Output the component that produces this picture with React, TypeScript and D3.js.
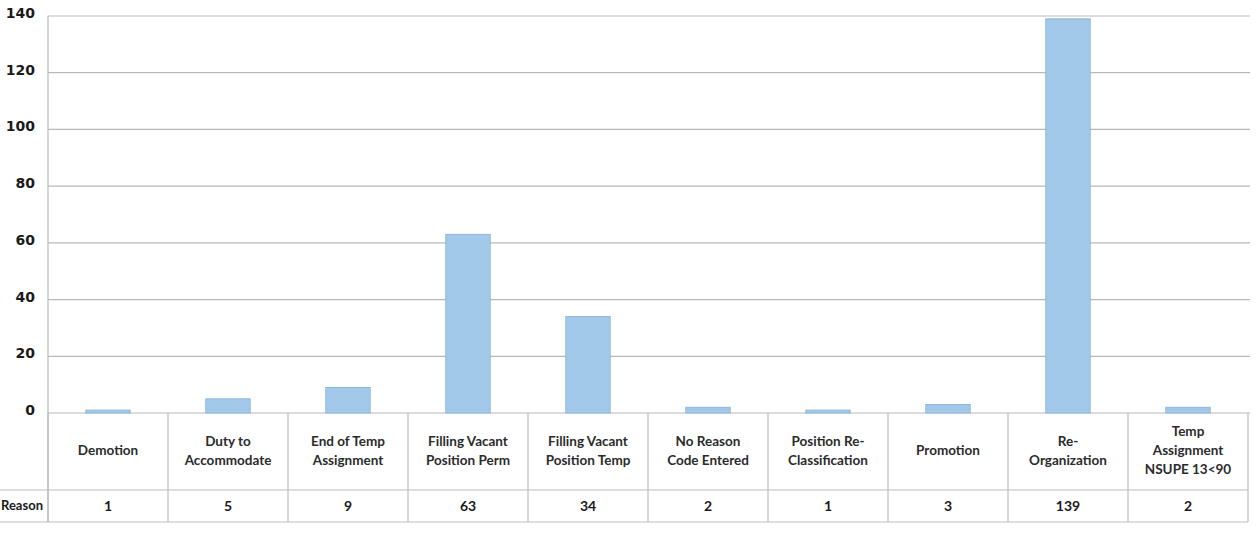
import React from 'react';
import * as d3 from 'd3';

const categories = [
  'Demotion',
  'Duty to\nAccommodate',
  'End of Temp\nAssignment',
  'Filling Vacant\nPosition Perm',
  'Filling Vacant\nPosition Temp',
  'No Reason\nCode Entered',
  'Position Re-\nClassification',
  'Promotion',
  'Re-\nOrganization',
  'Temp\nAssignment\nNSUPE 13<90',
];
const counts = [1, 5, 9, 63, 34, 2, 1, 3, 139, 2];
const yTicks = [0, 20, 40, 60, 80, 100, 120, 140];
const rowLabel = 'Reason';

const W = 1257;
const H = 535;
const left = 48;
const right = 1248;
const top = 16;
const zeroY = 413;
const tableMid = 490;
const tableBottom = 522;

const App: React.FC = () => {
  const x = d3.scaleBand<number>()
    .domain(d3.range(categories.length))
    .range([left, right])
    .paddingInner(0)
    .paddingOuter(0);
  const y = d3.scaleLinear().domain([0, 140]).range([zeroY, top]);
  const bw = x.bandwidth() * 0.37;
  const font = 'Lato, "Open Sans", sans-serif';

  return (
    <svg width={W} height={H} style={{ position: 'absolute', left: 0, top: 0, background: '#fff' }}>
      {/* gridlines */}
      {yTicks.map(t => (
        <line key={t} x1={left} x2={right + 2} y1={y(t)} y2={y(t)} stroke="#b9b9b9" strokeWidth={1.2} />
      ))}
      {/* y tick labels */}
      {yTicks.map(t => (
        <text key={'l' + t} x={35} y={y(t) - 2} textAnchor="end" dominantBaseline="middle"
          fontFamily='"DejaVu Sans", sans-serif' fontWeight="bold" fontSize={14} fill="#1a1a1a">{t}</text>
      ))}
      <line x1={left} x2={left} y1={top} y2={tableBottom} stroke="#b9b9b9" strokeWidth={1.2} />
      {/* bars */}
      {counts.map((v, i) => (
        <rect key={i} x={(x(i) || 0) + (x.bandwidth() - bw) / 2} y={y(v)} width={bw} height={y(0) - y(v)}
          fill="#a3c9ea" stroke="#8db8df" strokeWidth={1} />
      ))}
      {/* table lines */}
      <line x1={0} x2={right} y1={tableMid} y2={tableMid} stroke="#bdbdbd" strokeWidth={1.2} />
      <line x1={0} x2={right} y1={tableBottom} y2={tableBottom} stroke="#bdbdbd" strokeWidth={1.2} />
      {d3.range(categories.length + 1).map(i => {
        const xx = i < categories.length ? (x(i) || 0) : right;
        return <line key={'v' + i} x1={xx} x2={xx} y1={zeroY} y2={tableBottom} stroke="#bdbdbd" strokeWidth={1.2} />;
      })}
      {/* category labels */}
      {categories.map((c, i) => {
        const lines = c.split('\n');
        const lh = 19;
        const cy = 452;
        const y0 = cy - ((lines.length - 1) * lh) / 2;
        return (
          <text key={'c' + i} x={(x(i) || 0) + x.bandwidth() / 2} textAnchor="middle"
            fontFamily={font} fontWeight="bold" fontSize={13.5} fill="#2b2b2b">
            {lines.map((ln, j) => (
              <tspan key={j} x={(x(i) || 0) + x.bandwidth() / 2} y={y0 + j * lh} dominantBaseline="middle">{ln}</tspan>
            ))}
          </text>
        );
      })}
      {/* value row */}
      {counts.map((v, i) => (
        <text key={'n' + i} x={(x(i) || 0) + x.bandwidth() / 2} y={507} textAnchor="middle" dominantBaseline="middle"
          fontFamily={font} fontWeight="bold" fontSize={14} fill="#1a1a1a">{v}</text>
      ))}
      <text x={1} y={507} textAnchor="start" dominantBaseline="middle" fontFamily={font} fontWeight="bold" fontSize={13} fill="#1a1a1a">{rowLabel}</text>
    </svg>
  );
};

export default App;
